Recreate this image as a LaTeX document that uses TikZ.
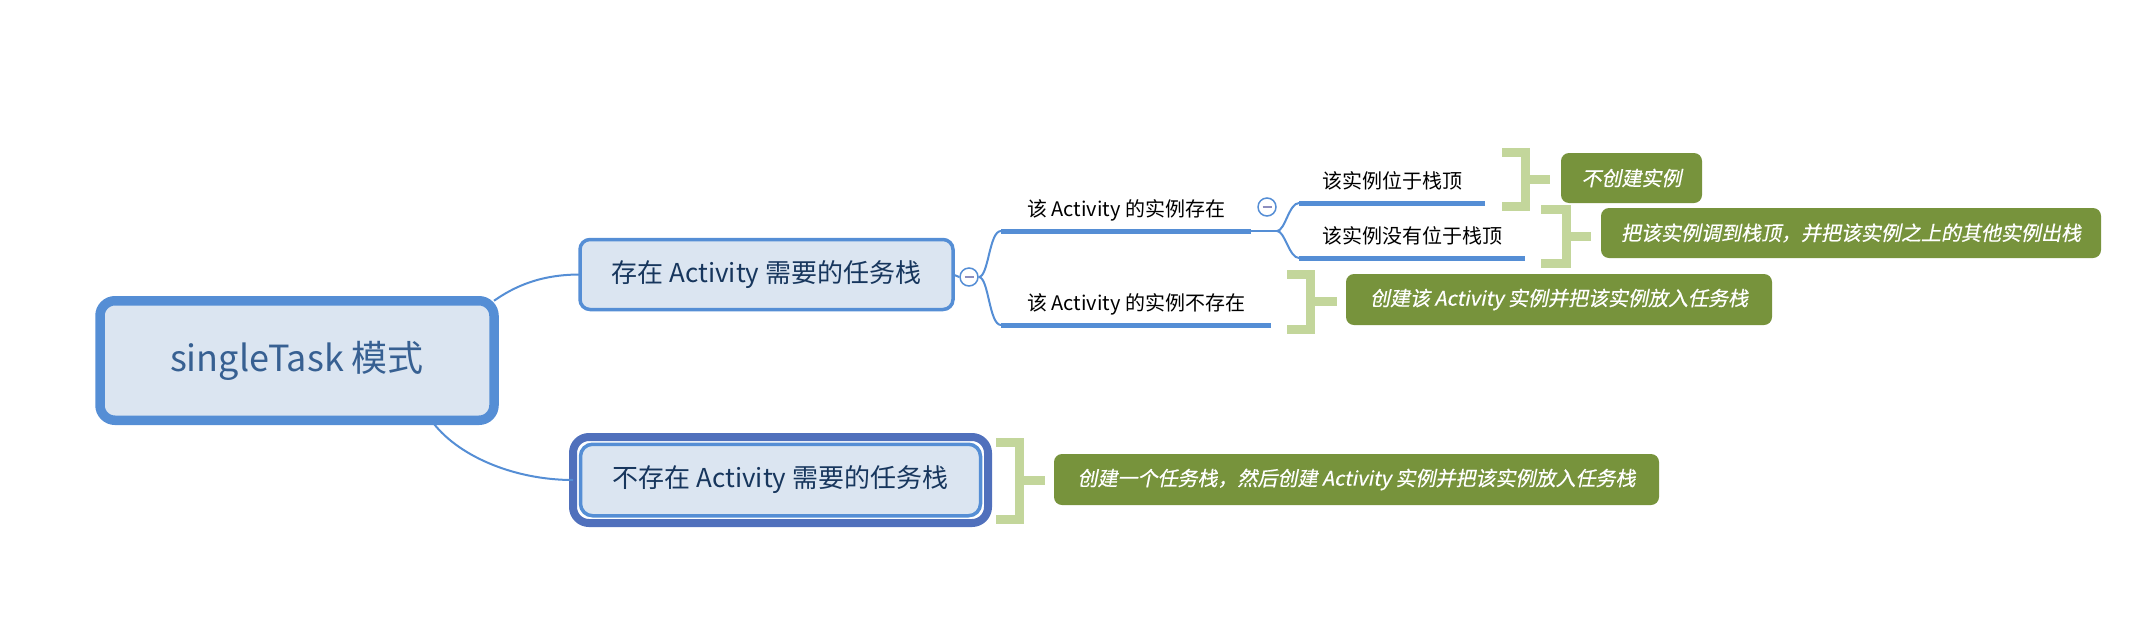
\documentclass[tikz,border=0pt]{standalone}
\usepackage{fontspec}
\setmainfont{Noto Sans CJK SC}
\newfontfamily\slantfont[FakeSlant=0.2, FakeBold=0.5]{Noto Sans CJK SC}
\usetikzlibrary{positioning}
\definecolor{topicblue}{RGB}{85,142,213}
\definecolor{topicfill}{RGB}{219,229,241}
\definecolor{selblue}{RGB}{80,112,188}
\definecolor{roottext}{RGB}{55,96,146}
\definecolor{subtext}{RGB}{23,54,93}
\definecolor{sumgreen}{RGB}{119,147,60}
\definecolor{bracegreen}{RGB}{195,214,155}
\definecolor{foldminus}{RGB}{140,142,190}

\begin{document}
\begin{tikzpicture}[x=1pt, y=-1pt,
	conn/.style={topicblue, line width=2pt},
	uline/.style={topicblue, line width=5pt},
	subbox/.style={draw=topicblue, line width=3.5pt, fill=topicfill, rounded corners=10pt,
		minimum height=70pt, inner sep=0pt, outer sep=0pt, text=subtext,
		font=\fontsize{26}{30}\selectfont},
	leaf/.style={anchor=south west, inner xsep=22pt, inner ysep=10pt, text height=15pt,
		text depth=5pt, outer sep=0pt, font=\fontsize{20}{24}\selectfont},
	sumbox/.style={fill=sumgreen, rounded corners=8pt, text=white, minimum height=50pt,
		inner sep=3pt, font=\slantfont\fontsize{20}{24}\selectfont},
	brace/.style={bracegreen, line width=9pt},
	fold/.style={circle, draw=topicblue, line width=1.5pt, fill=white, minimum size=18pt,
		inner sep=0pt, path picture={\draw[foldminus, line width=1.5pt]
			([xshift=-4.5pt]path picture bounding box.center) --
			([xshift=4.5pt]path picture bounding box.center);}}]
	
	\useasboundingbox (0,0) rectangle (2132,622);
	
	% ---- root ----
	\node[draw=topicblue, line width=9.5pt, fill=topicfill, rounded corners=15pt,
	minimum width=394pt, minimum height=119.5pt, inner sep=0pt, outer sep=0pt,
	text=roottext, font=\fontsize{36}{40}\selectfont] (root) at (297,360.5) {singleTask 模式};
	
	% ---- level 1 ----
	\node[subbox, minimum width=373pt] (hasTask) at (766.5,274.5) {存在 Activity 需要的任务栈};
	\node[draw=selblue, line width=8pt, fill=white, rounded corners=16pt, minimum width=415pt,
	minimum height=86pt, inner sep=0pt, outer sep=0pt] (noTaskSel) at (780.5,480) {};
	\node[subbox, minimum width=400pt, minimum height=71.5pt, rounded corners=12pt]
	(noTask) at (noTaskSel) {不存在 Activity 需要的任务栈};
	
	% ---- level 2 and 3 ----
	\node[leaf, minimum width=250pt] (hasInst) at (1001,231) {该 Activity 的实例存在};
	\node[leaf, minimum width=270pt] (noInst) at (1001,325) {该 Activity 的实例不存在};
	\node[leaf, minimum width=186pt] (atTop) at (1299,203) {该实例位于栈顶};
	\node[leaf, minimum width=226pt] (notTop) at (1299,258) {该实例没有位于栈顶};
	\foreach \n in {hasInst,noInst,atTop,notTop}
	\draw[uline] (\n.south west) -- (\n.south east);
	
	\node[fold] (fold1) at (969,277) {};
	\node[fold] (fold2) at (1267,207) {};
	
	% ---- summaries ----
	\foreach \xl/\xb/\yt/\yb/\xt in {1502/1525/152/206/1550, 1541/1566/209/263/1591,
		1287/1310/274.5/329/1337, 996/1019/442/519/1045}
	\draw[brace] (\xl,\yt) -| (\xb,\yb) -- (\xl,\yb) (\xb,{(\yt+\yb)/2}) -- (\xt,{(\yt+\yb)/2});
	
	\node[sumbox, minimum width=141pt] (sumTop) at (1631.5,178) {不创建实例};
	\node[sumbox, minimum width=500pt] (sumNotTop) at (1851,233)
	{把该实例调到栈顶，并把该实例之上的其他实例出栈};
	\node[sumbox, minimum width=426pt, minimum height=51pt] (sumNoInst) at (1559,299.5)
	{创建该 Activity 实例并把该实例放入任务栈};
	\node[sumbox, minimum width=605pt, minimum height=51pt] (sumNoTask) at (1356.5,479.5)
	{创建一个任务栈，然后创建 Activity 实例并把该实例放入任务栈};
	
	% ---- connectors ----
	\draw[conn] (root.north east) .. controls +(20,-14) and +(-40,0) .. (hasTask.west);
	\draw[conn] (root.-24) .. controls +(25,35) and +(-60,0) .. (noTaskSel.west);
	\draw[conn] (hasTask.east) -- (fold1.west);
	\draw[conn] (fold1.east) .. controls +(10,0) and +(-12,0) .. (hasInst.south west);
	\draw[conn] (fold1.east) .. controls +(10,0) and +(-12,0) .. (noInst.south west);
	\coordinate (split) at ([xshift=26pt]hasInst.south east);
	\draw[conn] (hasInst.south east) -- (split);
	\draw[conn] (split) .. controls +(8,0) and +(-10,0) .. (atTop.south west);
	\draw[conn] (split) .. controls +(8,0) and +(-10,0) .. (notTop.south west);
	
\end{tikzpicture}
\end{document}
